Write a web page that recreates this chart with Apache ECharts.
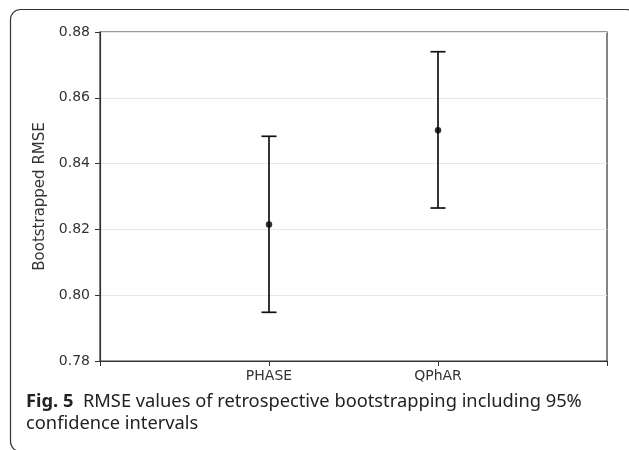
<!DOCTYPE html>
<html>
<head>
<meta charset="utf-8">
<script src="https://cdn.jsdelivr.net/npm/echarts@6/dist/echarts.min.js"></script>
<style>
  html, body { margin: 0; padding: 0; background: #fff; }
  #main { width: 629px; height: 450px; }
</style>
</head>
<body>
<div id="main"></div>
<script>
// categories sit at x = 1, 2 on a 0..3 axis
var categories = ['PHASE', 'QPhAR'];
var means = [0.8215, 0.8501];
var lower = [0.7948, 0.8265];
var upper = [0.8483, 0.8740];

var barData = categories.map(function (c, i) { return [i + 1, lower[i], upper[i]]; });
var meanData = categories.map(function (c, i) { return [i + 1, means[i]]; });

var chart = echarts.init(document.getElementById('main'));

var option = {
  animation: false,
  backgroundColor: '#fff',
  grid: {
    left: 100, right: 22, top: 32, bottom: 89,
    show: true, borderColor: '#333', borderWidth: 1.2
  },
  xAxis: {
    type: 'value', min: 0, max: 3, interval: 1,
    axisLine: { lineStyle: { color: '#333', width: 1.2 } },
    axisTick: { show: true, length: 5, lineStyle: { color: '#333' } },
    splitLine: { show: false },
    axisLabel: {
      color: '#333', fontFamily: 'DejaVu Sans', fontSize: 14, margin: 8,
      formatter: function (v) { return categories[v - 1] || ''; }
    }
  },
  yAxis: {
    type: 'value', min: 0.78, max: 0.88, interval: 0.02,
    name: 'Bootstrapped RMSE', nameLocation: 'middle', nameGap: 52,
    nameTextStyle: { color: '#333', fontFamily: 'DejaVu Sans', fontSize: 15 },
    axisLine: { show: true, lineStyle: { color: '#333', width: 1.2 } },
    axisTick: { show: true, length: 5, lineStyle: { color: '#333' } },
    splitLine: { show: true, lineStyle: { color: '#e8e8e8', width: 1 } },
    axisLabel: {
      color: '#333', fontFamily: 'DejaVu Sans', fontSize: 14, margin: 10,
      formatter: function (v) { return v.toFixed(2); }
    }
  },
  series: [
    {
      type: 'custom',
      data: barData,
      renderItem: function (params, api) {
        var x = api.value(0);
        var lo = api.coord([x, api.value(1)]);
        var hi = api.coord([x, api.value(2)]);
        var half = 7.5;
        var st = { stroke: '#111', lineWidth: 1.7 };
        return {
          type: 'group',
          children: [
            { type: 'line', shape: { x1: lo[0], y1: lo[1], x2: hi[0], y2: hi[1] }, style: st },
            { type: 'line', shape: { x1: lo[0] - half, y1: lo[1], x2: lo[0] + half, y2: lo[1] }, style: st },
            { type: 'line', shape: { x1: hi[0] - half, y1: hi[1], x2: hi[0] + half, y2: hi[1] }, style: st }
          ]
        };
      },
      z: 3
    },
    {
      type: 'scatter',
      data: meanData,
      symbolSize: 6.5,
      itemStyle: { color: '#000' },
      z: 4
    }
  ],
  graphic: [
    {
      type: 'rect',
      shape: { x: 10.5, y: 9.5, width: 626, height: 442, r: 10 },
      style: { fill: null, stroke: '#333', lineWidth: 1.2 },
      silent: true, z: -1
    },
    {
      type: 'text',
      left: 26, top: 391,
      style: {
        text: '{b|Fig. 5}  RMSE values of retrospective bootstrapping including 95%\nconfidence intervals',
        font: '18.3px "Noto Sans"',
        fill: '#222',
        lineHeight: 22,
        rich: {
          b: { fontWeight: 'bold', fontSize: 18.3, fontFamily: 'Noto Sans', fill: '#222' }
        }
      }
    }
  ]
};

chart.setOption(option);
</script>
</body>
</html>
